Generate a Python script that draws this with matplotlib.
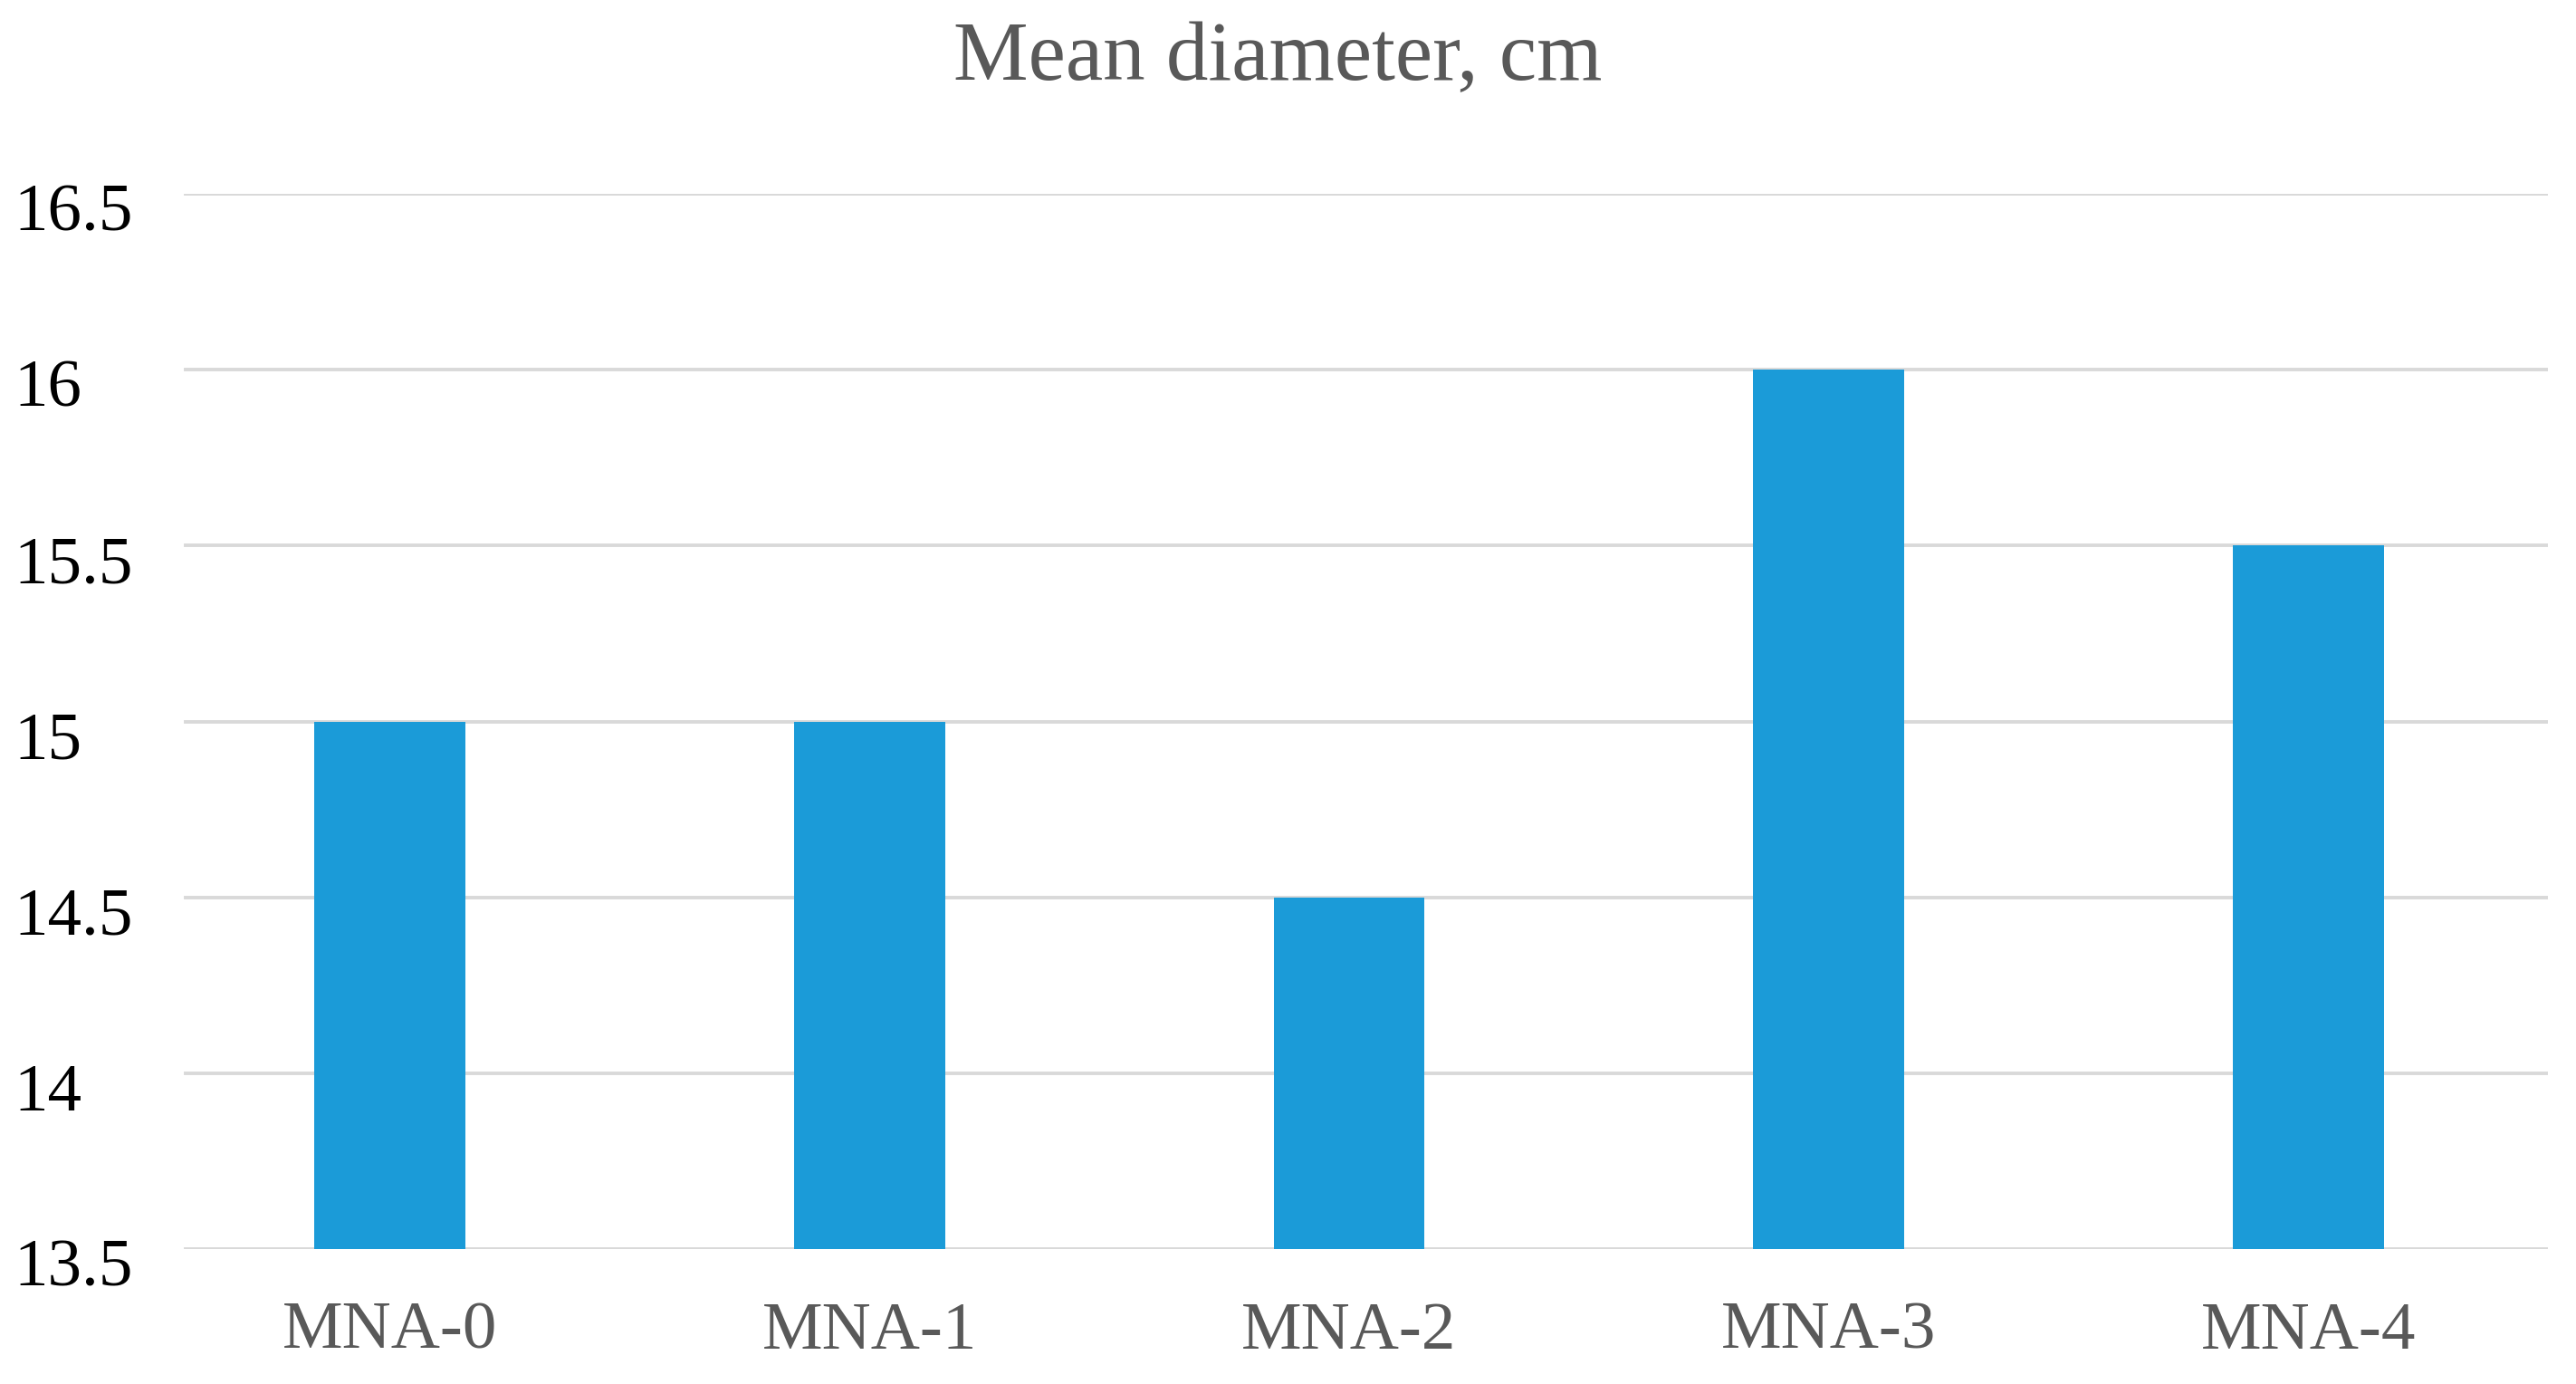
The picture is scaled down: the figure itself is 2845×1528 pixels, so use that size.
import matplotlib
matplotlib.use("Agg")
import matplotlib.pyplot as plt
import matplotlib.transforms as mtransforms

categories = ["MNA-0", "MNA-1", "MNA-2", "MNA-3", "MNA-4"]
values = [15.0, 15.0, 14.5, 16.0, 15.5]
yticks = [13.5, 14, 14.5, 15, 15.5, 16, 16.5]
ytick_labels = ["13.5", "14", "14.5", "15", "15.5", "16", "16.5"]
title = "Mean diameter, cm"

W, H = 2845, 1528
fig = plt.figure(figsize=(W / 100, H / 100), dpi=100)
ax = fig.add_axes([166 / W, 1 - 1379 / H, (2814 - 166) / W, (1379 - 214) / H])

base = 13.5
ax.bar(range(len(categories)), [v - base for v in values], bottom=base,
       width=0.315, color="#1B9BD8", zorder=3)

ax.set_xlim(-0.5, len(categories) - 0.5)
ax.set_ylim(13.5, 16.5)

for y in yticks:
    ax.axhline(y, xmin=0.0147, xmax=1.0, color="#D9D9D9", lw=2.8, zorder=1)

for s in ax.spines.values():
    s.set_visible(False)

ax.set_yticks(yticks)
ax.set_yticklabels([])
ax.tick_params(axis="y", length=0)

ax.set_xticks(range(len(categories)))
ax.set_xticklabels(categories, fontfamily="Liberation Serif", fontsize=54,
                   color="#595959")
ax.tick_params(axis="x", length=0, pad=42)

trans = mtransforms.blended_transform_factory(fig.transFigure, ax.transData)
offset = mtransforms.ScaledTranslation(0, -23 / 100, fig.dpi_scale_trans)
for y, lab in zip(yticks, ytick_labels):
    ax.text(15 / W, y, lab, transform=trans + offset, ha="left", va="center",
            fontfamily="Liberation Serif", fontsize=54, color="black")

fig.text(0.496, 1 - 66 / H, title, ha="center", va="center",
         fontfamily="Liberation Serif", fontsize=67, color="#595959")

fig.savefig("out.png", dpi=100, facecolor="white")
